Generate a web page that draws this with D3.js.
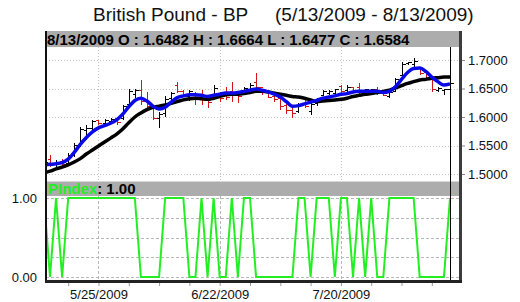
<!DOCTYPE html>
<html>
<head>
<meta charset="utf-8">
<script src="https://cdn.jsdelivr.net/npm/d3@7"></script>
<style>
  body { margin: 0; background: #fff; }
  svg { display: block; }
  text { font-family: Arial, "Liberation Sans", sans-serif; }
</style>
</head>
<body>
<div id="chart"></div>
<script>
// trading days (5/12 is only there so the first segments come in from the left edge)
var dates = ["5/12/2009",
  "5/13/2009", "5/14/2009", "5/15/2009",
  "5/18/2009", "5/19/2009", "5/20/2009", "5/21/2009", "5/22/2009",
  "5/25/2009", "5/26/2009", "5/27/2009", "5/28/2009", "5/29/2009",
  "6/1/2009", "6/2/2009", "6/3/2009", "6/4/2009", "6/5/2009",
  "6/8/2009", "6/9/2009", "6/10/2009", "6/11/2009", "6/12/2009",
  "6/15/2009", "6/16/2009", "6/17/2009", "6/18/2009", "6/19/2009",
  "6/22/2009", "6/23/2009", "6/24/2009", "6/25/2009", "6/26/2009",
  "6/29/2009", "6/30/2009", "7/1/2009", "7/2/2009", "7/3/2009",
  "7/6/2009", "7/7/2009", "7/8/2009", "7/9/2009", "7/10/2009",
  "7/13/2009", "7/14/2009", "7/15/2009", "7/16/2009", "7/17/2009",
  "7/20/2009", "7/21/2009", "7/22/2009", "7/23/2009", "7/24/2009",
  "7/27/2009", "7/28/2009", "7/29/2009", "7/30/2009", "7/31/2009",
  "8/3/2009", "8/4/2009", "8/5/2009", "8/6/2009", "8/7/2009",
  "8/10/2009", "8/11/2009", "8/12/2009", "8/13/2009"];

var opens = [1.512,
  1.525, 1.516, 1.522,
  1.518, 1.532, 1.550, 1.576, 1.580,
  1.593, 1.588, 1.592, 1.598, 1.597,
  1.622, 1.640, 1.646, 1.630, 1.615,
  1.598, 1.606, 1.632, 1.655, 1.645,
  1.636, 1.642, 1.638, 1.636, 1.637,
  1.642, 1.640, 1.645, 1.641, 1.642,
  1.646, 1.660, 1.652, 1.643, 1.636,
  1.632, 1.620, 1.611, 1.609, 1.624,
  1.610, 1.624, 1.637, 1.641, 1.642,
  1.653, 1.646, 1.651, 1.652, 1.643,
  1.644, 1.649, 1.644, 1.636, 1.645,
  1.672, 1.693, 1.692, 1.686, 1.678,
  1.668, 1.646, 1.647, 1.6482];

var highs = [1.528,
  1.533, 1.525, 1.526,
  1.536, 1.554, 1.583, 1.586, 1.595,
  1.595, 1.597, 1.599, 1.600, 1.621,
  1.650, 1.650, 1.665, 1.644, 1.618,
  1.609, 1.636, 1.644, 1.662, 1.647,
  1.647, 1.644, 1.647, 1.639, 1.656,
  1.644, 1.653, 1.662, 1.644, 1.653,
  1.659, 1.677, 1.650, 1.644, 1.639,
  1.636, 1.627, 1.618, 1.624, 1.630,
  1.624, 1.634, 1.647, 1.647, 1.650,
  1.656, 1.656, 1.653, 1.659, 1.650,
  1.650, 1.653, 1.647, 1.644, 1.668,
  1.697, 1.697, 1.703, 1.688, 1.683,
  1.671, 1.653, 1.650, 1.6664];

var lows = [1.508,
  1.513, 1.511, 1.512,
  1.515, 1.530, 1.548, 1.560, 1.572,
  1.586, 1.583, 1.587, 1.586, 1.595,
  1.621, 1.633, 1.621, 1.612, 1.595,
  1.580, 1.600, 1.630, 1.642, 1.636,
  1.628, 1.621, 1.621, 1.615, 1.636,
  1.627, 1.630, 1.627, 1.624, 1.641,
  1.644, 1.647, 1.639, 1.633, 1.627,
  1.612, 1.606, 1.598, 1.607, 1.615,
  1.603, 1.620, 1.636, 1.639, 1.636,
  1.639, 1.644, 1.644, 1.641, 1.641,
  1.640, 1.639, 1.636, 1.633, 1.644,
  1.671, 1.691, 1.688, 1.674, 1.665,
  1.644, 1.644, 1.639, 1.6477];

var closes = [1.520,
  1.518, 1.521, 1.516,
  1.533, 1.550, 1.578, 1.580, 1.592,
  1.588, 1.594, 1.596, 1.590, 1.618,
  1.645, 1.646, 1.628, 1.618, 1.598,
  1.605, 1.630, 1.641, 1.645, 1.638,
  1.644, 1.630, 1.632, 1.626, 1.650,
  1.632, 1.634, 1.638, 1.636, 1.650,
  1.655, 1.651, 1.644, 1.635, 1.630,
  1.618, 1.612, 1.606, 1.620, 1.618,
  1.622, 1.630, 1.645, 1.645, 1.648,
  1.645, 1.652, 1.646, 1.645, 1.648,
  1.649, 1.642, 1.638, 1.643, 1.665,
  1.692, 1.696, 1.698, 1.676, 1.668,
  1.648, 1.650, 1.648, 1.6584];

// the two averages as drawn on the chart
var fastAvg = [1.516,
  1.517, 1.518, 1.520,
  1.526, 1.538, 1.552, 1.564, 1.574,
  1.581, 1.585, 1.589, 1.595, 1.605,
  1.618, 1.629, 1.633, 1.628, 1.619,
  1.614, 1.617, 1.626, 1.634, 1.637,
  1.639, 1.639, 1.638, 1.636, 1.638,
  1.640, 1.642, 1.642, 1.643, 1.645,
  1.647, 1.649, 1.647, 1.644, 1.640,
  1.635, 1.627, 1.619, 1.620, 1.623,
  1.626, 1.629, 1.633, 1.635, 1.637,
  1.640, 1.641, 1.644, 1.645, 1.645,
  1.645, 1.645, 1.643, 1.645, 1.653,
  1.666, 1.678, 1.685, 1.686, 1.680,
  1.670, 1.662, 1.656, 1.658];

var slowAvg = [1.502,
  1.505, 1.509, 1.512,
  1.516, 1.521, 1.527, 1.535, 1.542,
  1.549, 1.556, 1.563, 1.570, 1.579,
  1.590, 1.600, 1.607, 1.613, 1.617,
  1.619, 1.621, 1.624, 1.627, 1.630,
  1.632, 1.633, 1.632, 1.631, 1.633,
  1.636, 1.639, 1.640, 1.640, 1.641,
  1.643, 1.645, 1.645, 1.644, 1.642,
  1.640, 1.638, 1.636, 1.635, 1.633,
  1.630, 1.627, 1.628, 1.629, 1.630,
  1.631, 1.633, 1.636, 1.638, 1.640,
  1.641, 1.643, 1.645, 1.647, 1.651,
  1.655, 1.659, 1.662, 1.665, 1.666,
  1.668, 1.669, 1.670, 1.670];

var pIndex = [1,
  0, 1, 0,
  1, 1, 1, 1, 1,
  1, 1, 1, 1, 1,
  1, 1, 0, 0, 0,
  0, 1, 1, 1, 1,
  0, 0, 1, 0, 1,
  0, 0, 1, 0, 1,
  1, 0, 0, 0, 0,
  0, 0, 0, 1, 1,
  0, 1, 1, 1, 0,
  1, 1, 0, 1, 0,
  1, 0, 0, 1, 1,
  1, 1, 1, 0, 0,
  0, 0, 0, 1];

var priceTicks = [1.50, 1.55, 1.60, 1.65, 1.70];
var indexTicks = [0, 1];
var indexGrid = [0, 0.25, 0.5, 0.75, 1];
var mondays = ["5/18/2009", "5/25/2009", "6/1/2009", "6/8/2009", "6/15/2009", "6/22/2009",
  "6/29/2009", "7/6/2009", "7/13/2009", "7/20/2009", "7/27/2009", "8/3/2009", "8/10/2009"];
var labelDates = ["5/25/2009", "6/22/2009", "7/20/2009"];

var svgWidth = 520;
var svgHeight = 302;

var plot = { left: 46, right: 459 };
var main = { top: 47, bottom: 181 };
var lower = { top: 196, bottom: 281 };

var bars = dates.map(function(d, i) {
    return { date: d, open: opens[i], high: highs[i], low: lows[i], close: closes[i],
             fast: fastAvg[i], slow: slowAvg[i], pi: pIndex[i] };
});
var last = bars[bars.length - 1];

var svg = d3.select("#chart")
    .append("svg")
    .attr("width", svgWidth)
    .attr("height", svgHeight);

var x = d3.scalePoint()
    .domain(dates)
    .range([43.94, 450]);

var y = d3.scaleLinear()
    .domain([1.50, 1.70])
    .range([174, 60]);

var yIdx = d3.scaleLinear()
    .domain([0, 1])
    .range([277, 198]);

var defs = svg.append("defs");
defs.append("clipPath").attr("id", "clipMain")
    .append("rect")
    .attr("x", plot.left).attr("y", main.top)
    .attr("width", plot.right - plot.left).attr("height", main.bottom - main.top);
defs.append("clipPath").attr("id", "clipLower")
    .append("rect")
    .attr("x", plot.left).attr("y", lower.top)
    .attr("width", plot.right - plot.left).attr("height", lower.bottom - lower.top);

// title
svg.append("text")
    .attr("x", 93).attr("y", 21)
    .style("font-size", "19px").attr("fill", "#111")
    .text("British Pound - BP");
svg.append("text")
    .attr("x", 275).attr("y", 21)
    .style("font-size", "19px").attr("fill", "#111")
    .text("(5/13/2009 - 8/13/2009)");

// grid lines
var grid = svg.append("g");
grid.selectAll("line.hmain")
    .data(priceTicks)
    .enter().append("line")
    .attr("x1", plot.left).attr("x2", plot.right)
    .attr("y1", d => Math.round(y(d)) + 0.5).attr("y2", d => Math.round(y(d)) + 0.5)
    .attr("stroke", "#c4c4c4").attr("stroke-dasharray", "1,2");
grid.selectAll("line.vmain")
    .data(labelDates)
    .enter().append("line")
    .attr("x1", d => Math.round(x(d)) + 0.5).attr("x2", d => Math.round(x(d)) + 0.5)
    .attr("y1", main.top).attr("y2", main.bottom)
    .attr("stroke", "#c4c4c4").attr("stroke-dasharray", "1,2");
grid.selectAll("line.hlow")
    .data(indexGrid)
    .enter().append("line")
    .attr("x1", plot.left).attr("x2", plot.right)
    .attr("y1", d => Math.round(yIdx(d)) + 0.5).attr("y2", d => Math.round(yIdx(d)) + 0.5)
    .attr("stroke", "#b8b8b8").attr("stroke-dasharray", "3,2");
grid.selectAll("line.vlow")
    .data(labelDates)
    .enter().append("line")
    .attr("x1", d => Math.round(x(d)) + 0.5).attr("x2", d => Math.round(x(d)) + 0.5)
    .attr("y1", lower.top).attr("y2", lower.bottom)
    .attr("stroke", "#b8b8b8").attr("stroke-dasharray", "3,2");

// OHLC bars
var mainGroup = svg.append("g").attr("clip-path", "url(#clipMain)");

mainGroup.selectAll("path.bar")
    .data(bars)
    .enter().append("path")
    .attr("d", function(d) {
        var cx = Math.round(x(d.date)) + 0.5;
        return "M" + cx + "," + y(d.high) + "V" + y(d.low) +
               "M" + (cx - 3) + "," + y(d.open) + "H" + cx +
               "M" + cx + "," + y(d.close) + "H" + (cx + 3);
    })
    .attr("fill", "none")
    .attr("stroke", d => d.close < d.open ? "#d01818" : "#000")
    .attr("stroke-width", 1)
    .attr("shape-rendering", "crispEdges");

var slowLine = d3.line()
    .x(d => x(d.date))
    .y(d => y(d.slow))
    .curve(d3.curveMonotoneX);

var fastLine = d3.line()
    .x(d => x(d.date))
    .y(d => y(d.fast))
    .curve(d3.curveMonotoneX);

mainGroup.append("path")
    .datum(bars)
    .attr("d", slowLine)
    .attr("fill", "none")
    .attr("stroke", "#000")
    .attr("stroke-width", 3.5)
    .attr("stroke-linejoin", "round");

mainGroup.append("path")
    .datum(bars)
    .attr("d", fastLine)
    .attr("fill", "none")
    .attr("stroke", "#0a0ae8")
    .attr("stroke-width", 3.5)
    .attr("stroke-linejoin", "round");

// PIndex line
var lowerGroup = svg.append("g").attr("clip-path", "url(#clipLower)");

var piLine = d3.line()
    .x(d => x(d.date))
    .y(d => yIdx(d.pi));

lowerGroup.append("path")
    .datum(bars)
    .attr("d", piLine)
    .attr("fill", "none")
    .attr("stroke", "#22ee22")
    .attr("stroke-width", 2);

// info bars
svg.append("rect")
    .attr("x", plot.left).attr("y", 31)
    .attr("width", plot.right - plot.left).attr("height", 16)
    .attr("fill", "#acacac");

svg.append("text")
    .attr("x", 47).attr("y", 45)
    .style("font-size", "15px").style("font-weight", "bold")
    .text(last.date + " O : " + last.open.toFixed(4) + " H : " + last.high.toFixed(4) +
          " L : " + last.low.toFixed(4) + " C : " + last.close.toFixed(4));

svg.append("rect")
    .attr("x", plot.left).attr("y", 181.5)
    .attr("width", plot.right - plot.left).attr("height", 14.5)
    .attr("fill", "#acacac");

var piLabel = svg.append("text")
    .attr("x", 48).attr("y", 194)
    .style("font-size", "15px").style("font-weight", "bold");
piLabel.append("tspan").attr("fill", "#22ee22").text("PIndex");
piLabel.append("tspan").attr("fill", "#000").text(": " + last.pi.toFixed(2));

// cursor on the last bar
svg.append("line")
    .attr("x1", Math.round(x(last.date)) + 0.5).attr("x2", Math.round(x(last.date)) + 0.5)
    .attr("y1", main.top).attr("y2", lower.bottom)
    .attr("stroke", "#000");

// frame
svg.append("rect")
    .attr("x", plot.right).attr("y", 31)
    .attr("width", 3).attr("height", lower.bottom + 2 - 31)
    .attr("fill", "#3c3c3c");
svg.append("rect")
    .attr("x", 45).attr("y", 31)
    .attr("width", 2).attr("height", lower.bottom + 2 - 31)
    .attr("fill", "#111");
svg.append("rect")
    .attr("x", 45).attr("y", lower.bottom - 1)
    .attr("width", plot.right + 3 - 45).attr("height", 3)
    .attr("fill", "#222");

// axes
var rightAxis = d3.axisRight(y)
    .tickValues(priceTicks)
    .tickFormat(d3.format(".4f"))
    .tickSize(3)
    .tickPadding(3);

svg.append("g")
    .attr("transform", `translate(${plot.right + 3}, 0)`)
    .call(rightAxis)
    .call(g => g.select(".domain").remove())
    .call(g => g.selectAll("text").style("font-size", "13px").attr("fill", "#111"))
    .call(g => g.selectAll("line").attr("stroke", "#888"));

var leftAxis = d3.axisLeft(yIdx)
    .tickValues(indexTicks)
    .tickFormat(d3.format(".2f"))
    .tickSize(0)
    .tickPadding(9);

svg.append("g")
    .attr("transform", `translate(${plot.left}, 0)`)
    .call(leftAxis)
    .call(g => g.select(".domain").remove())
    .call(g => g.selectAll("text").style("font-size", "13px").attr("fill", "#111"));

var bottomAxis = d3.axisBottom(x)
    .tickValues(mondays)
    .tickFormat(d => labelDates.indexOf(d) >= 0 ? d : "")
    .tickSize(3)
    .tickPadding(4);

svg.append("g")
    .attr("transform", `translate(0, ${lower.bottom + 2})`)
    .call(bottomAxis)
    .call(g => g.select(".domain").remove())
    .call(g => g.selectAll("text").style("font-size", "13px").attr("fill", "#111"))
    .call(g => g.selectAll("line").attr("stroke", "#999"));
</script>
</body>
</html>
